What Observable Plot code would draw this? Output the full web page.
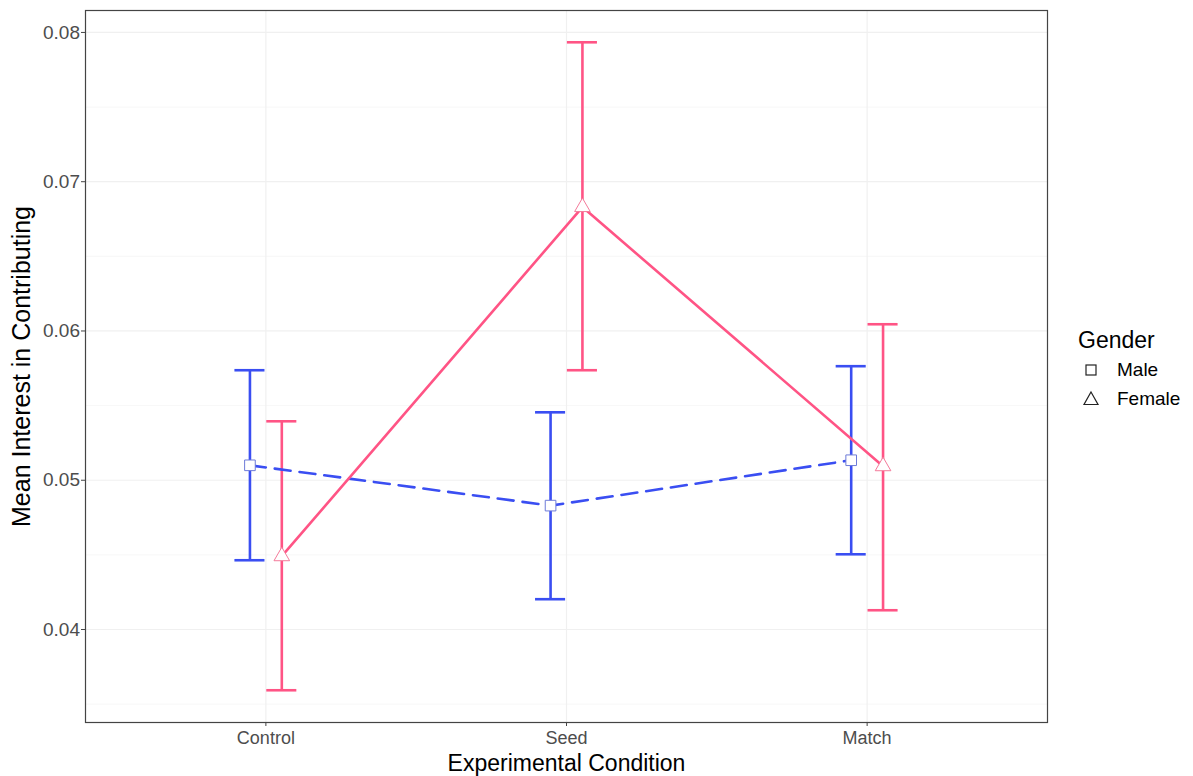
<!DOCTYPE html>
<html>
<head>
<meta charset="utf-8">
<script src="https://cdn.jsdelivr.net/npm/d3@7"></script>
<script src="https://cdn.jsdelivr.net/npm/@observablehq/plot@0.6"></script>
<style>
  html, body { margin: 0; padding: 0; background: #fff; }
  #wrap { position: relative; width: 1193px; height: 776px; font-family: "Liberation Sans", Arial, sans-serif; }
  #legend { position: absolute; left: 1078px; top: 326px; color: #000; }
  #legend .title { font-size: 23px; line-height: 28px; margin-bottom: 1px; }
  #legend .item { display: flex; align-items: center; font-size: 19px; height: 29px; }
  #legend .item svg { margin-left: 4px; margin-right: 17px; }
</style>
</head>
<body>
<div id="wrap">
  <div id="chart"></div>
  <div id="legend">
    <div class="title">Gender</div>
    <div class="item"><svg width="18" height="18" viewBox="-9 -9 18 18"><rect x="-5" y="-5" width="10" height="10" fill="#fff" stroke="#222" stroke-width="1.2"/></svg>Male</div>
    <div class="item"><svg width="18" height="18" viewBox="-9 -9 18 18"><path d="M0,-7L7,5.5L-7,5.5Z" fill="#fff" stroke="#222" stroke-width="1.2"/></svg>Female</div>
  </div>
</div>
<script>
// ---- data ----
const conditions = ["Control", "Seed", "Match"];
const genders = ["Male", "Female"];
const maleMean = [0.0510, 0.04830, 0.05134];
const maleLow = [0.04464, 0.04203, 0.04504];
const maleHigh = [0.05737, 0.05455, 0.05764];
const femaleMean = [0.04491, 0.06830, 0.05094];
const femaleLow = [0.03593, 0.05737, 0.04129];
const femaleHigh = [0.05395, 0.07934, 0.06045];
const yTicks = [0.04, 0.05, 0.06, 0.07, 0.08];
const yMinorTicks = [0.035, 0.045, 0.055, 0.065, 0.075];

// ---- build table ----
const dodge = 0.053;
const rows = [];
conditions.forEach((c, i) => {
  rows.push({condition: c, idx: i + 1, gender: "Male", mean: maleMean[i], lo: maleLow[i], hi: maleHigh[i], pos: i + 1 - dodge});
  rows.push({condition: c, idx: i + 1, gender: "Female", mean: femaleMean[i], lo: femaleLow[i], hi: femaleHigh[i], pos: i + 1 + dodge});
});
const male = rows.filter(d => d.gender === "Male");
const female = rows.filter(d => d.gender === "Female");
const cap = 0.05;
const blue = "#3a4ef2";
const pink = "#ff5485";

const chart = Plot.plot({
  width: 1193,
  height: 776,
  marginLeft: 85,
  marginRight: 146,
  marginTop: 10,
  marginBottom: 54,
  style: {fontFamily: "Liberation Sans, Arial, sans-serif", fontSize: "15px", background: "#fff"},
  x: {domain: [0.4, 3.6]},
  y: {domain: [0.03377, 0.08147]},
  marks: [
    Plot.gridY(yMinorTicks, {stroke: "#f2f2f2", strokeOpacity: 1, strokeWidth: 0.6}),
    Plot.gridY(yTicks, {stroke: "#f0f0f0", strokeOpacity: 1, strokeWidth: 1.2}),
    Plot.gridX([1, 2, 3], {stroke: "#f0f0f0", strokeOpacity: 1, strokeWidth: 1.2}),
    Plot.frame({stroke: "#444", strokeWidth: 1.2}),
    Plot.axisY(yTicks, {
      tickFormat: d3.format(".2f"), tickSize: 4, tickPadding: 1.5, stroke: "#444",
      fill: "#4d4d4d", fontSize: 19,
      label: "Mean Interest in Contributing", labelAnchor: "center", labelArrow: "none", labelOffset: 73
    }),
    Plot.axisX([1, 2, 3], {
      tickFormat: d => conditions[d - 1], tickSize: 4, tickPadding: 5, stroke: "#444",
      fill: "#4d4d4d", fontSize: 18,
      label: "Experimental Condition", labelAnchor: "center", labelArrow: "none", labelOffset: 48
    }),
    // error bars
    Plot.ruleX(rows, {x: "pos", y1: "lo", y2: "hi", stroke: d => d.gender === "Male" ? blue : pink, strokeWidth: 2.6}),
    Plot.ruleY(rows, {y: "hi", x1: d => d.pos - cap, x2: d => d.pos + cap, stroke: d => d.gender === "Male" ? blue : pink, strokeWidth: 2.6}),
    Plot.ruleY(rows, {y: "lo", x1: d => d.pos - cap, x2: d => d.pos + cap, stroke: d => d.gender === "Male" ? blue : pink, strokeWidth: 2.6}),
    // lines
    Plot.line(male, {x: "pos", y: "mean", stroke: blue, strokeWidth: 2.6, strokeDasharray: "16,9"}),
    Plot.line(female, {x: "pos", y: "mean", stroke: pink, strokeWidth: 2.6}),
    // points
    Plot.dot(male, {x: "pos", y: "mean", symbol: "square", r: 6, fill: "#fff", stroke: "#6d7bd8", strokeWidth: 1}),
    Plot.dot(female, {x: "pos", y: "mean", symbol: "triangle", r: 5.8, fill: "#fff", stroke: "#f47a9a", strokeWidth: 1})
  ]
});
document.getElementById("chart").appendChild(chart);
// Axis title styling
d3.select(chart).selectAll("text").filter(function() { return this.textContent === "Experimental Condition"; })
  .attr("fill", "#000").style("font-size", "23px");
d3.select(chart).selectAll("text").filter(function() { return this.textContent === "Mean Interest in Contributing"; })
  .attr("fill", "#000").style("font-size", "25px");
</script>
</body>
</html>
